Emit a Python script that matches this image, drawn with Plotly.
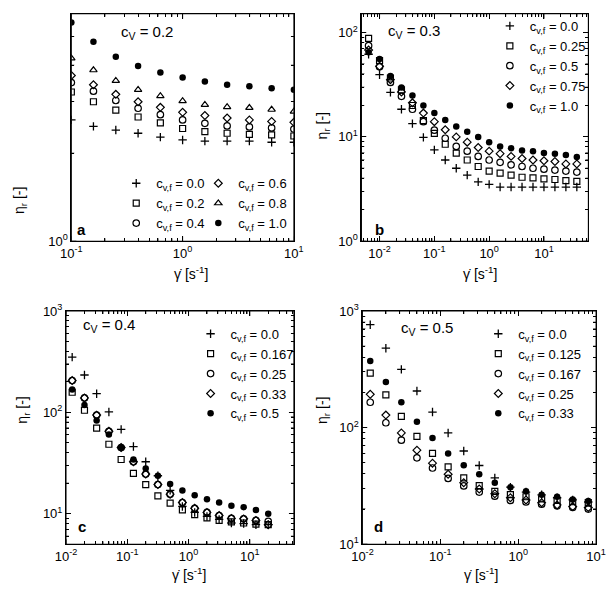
import math
import plotly.graph_objects as go

W, H = 608, 591
FONT = "Liberation Sans, Arial, Helvetica, sans-serif"

# ---------------- data ----------------
# panel a: c_V = 0.2
gd_a = [0.1, 0.158, 0.251, 0.398, 0.631, 1.0, 1.585, 2.512, 3.981, 6.31, 10.0]
a_cvf_00 = [2.60, 2.47, 2.40, 2.34, 2.27, 2.22, 2.20, 2.20, 2.20, 2.18, 2.18]
a_cvf_02 = [3.24, 3.00, 2.81, 2.66, 2.54, 2.43, 2.37, 2.34, 2.32, 2.31, 2.29]
a_cvf_04 = [3.49, 3.26, 3.03, 2.85, 2.71, 2.60, 2.53, 2.48, 2.46, 2.44, 2.42]
a_cvf_06 = [3.69, 3.43, 3.18, 3.00, 2.87, 2.76, 2.69, 2.64, 2.60, 2.57, 2.55]
a_cvf_08 = [4.23, 3.85, 3.54, 3.30, 3.14, 3.02, 2.93, 2.88, 2.86, 2.82, 2.78]
a_cvf_10 = [5.60, 4.81, 4.28, 3.98, 3.78, 3.63, 3.52, 3.43, 3.39, 3.34, 3.30]

# panel b: c_V = 0.3
gd_b = [0.00631, 0.01, 0.0158, 0.0251, 0.0398, 0.0631, 0.1, 0.158, 0.251, 0.398,
        0.631, 1.0, 1.585, 2.512, 3.981, 6.31, 10.0, 15.85, 25.12, 39.81]
b_cvf_000 = [62, 39.5, 26.7, 18.4, 13.4, 9.9, 7.5, 6.0, 5.0, 4.3,
             3.7, 3.5, 3.3, 3.3, 3.3, 3.3, 3.3, 3.3, 3.3, 3.3]
b_cvf_025 = [88, 54, 36.7, 28.3, 20, 14.3, 10.8, 8.5, 7.0, 6.0,
             5.2, 4.7, 4.5, 4.3, 4.1, 4.05, 3.96, 3.9, 3.8, 3.75]
b_cvf_050 = [75, 47, 33.3, 24.5, 18.4, 14.0, 11.6, 9.7, 8.1, 7.3,
             6.5, 6.0, 5.7, 5.4, 5.2, 5.0, 4.9, 4.8, 4.7, 4.6]
b_cvf_075 = [68, 47.5, 35.4, 27, 21.2, 16.9, 14.0, 11.7, 10.0, 8.9,
             7.9, 7.3, 6.9, 6.5, 6.2, 6.0, 5.9, 5.8, 5.5, 5.5]
b_cvf_100 = [65, 55.7, 38.4, 29.7, 24.9, 20.0, 16.9, 14.5, 12.6, 11.2,
             10.0, 8.9, 8.1, 7.8, 7.4, 7.3, 7.0, 6.9, 6.7, 6.4]

# panel c: c_V = 0.4
gd_c = [0.0126, 0.02, 0.0316, 0.0501, 0.0794, 0.126, 0.2, 0.316, 0.501, 0.794,
        1.26, 2.0, 3.16, 5.01, 7.94, 12.6, 20.0]
c_cvf_000 = [351, 234, 153, 101, 68, 46, 32.6, 23.7, 17, 11.8,
             10.3, 9.4, 8.8, 8.1, 8.0, 7.8, 7.8]
c_cvf_0167 = [158, 105, 70, 48.5, 34.3, 25, 19.4, 15, 12.7, 10.9,
              9.8, 9.1, 8.6, 8.3, 8.1, 7.9, 7.8]
c_cvf_025 = [206, 139, 94, 65, 45, 32.6, 24.6, 19.4, 15.6, 12.9,
             11.3, 10.3, 9.6, 9.0, 8.9, 8.6, 8.4]
c_cvf_033 = [206, 139, 94, 65, 45, 32.6, 24.6, 19.4, 15.6, 12.9,
             11.3, 10.3, 9.6, 9.0, 8.9, 8.6, 7.8]
c_cvf_050 = [168, 118, 83, 60.5, 45, 34.3, 28, 23.7, 19.7, 17,
             15.2, 13.9, 12.9, 12.0, 11.6, 10.9, 10.0]

# panel d: c_V = 0.5
gd_d = [0.0126, 0.02, 0.0316, 0.0501, 0.0794, 0.126, 0.2, 0.316, 0.501, 0.794,
        1.26, 2.0, 3.16, 5.01, 7.94]
d_cvf_000 = [764, 480, 316, 206, 136, 90, 63, 47.3, 37, 30.8, 28, 26.5, 25, 24, 23]
d_cvf_0125 = [293, 191, 125, 84, 60, 46, 37, 31.8, 28.4, 26.6, 25.5, 24.5, 23.7, 23.1, 22.7]
d_cvf_0167 = [165, 110, 78, 55, 45, 36.6, 31.6, 28, 25.8, 23.7, 23, 22, 21.3, 20.7, 20]
d_cvf_025 = [193, 128, 90, 64, 49.5, 39.8, 33.7, 29.7, 27.1, 25, 23.9, 22.7, 21.7, 21, 20.6]
d_cvf_033 = [373, 246, 165, 112, 81.5, 60, 47.6, 39.8, 33.7, 30.8, 28.4, 26.6, 25.5, 24.2, 23.4]

# tick labels
xt_a_vals = [0.1, 1, 10]
xt_a_text = ["10<sup>-1</sup>", "10<sup>0</sup>", "10<sup>1</sup>"]
yt_a_vals = [1, 6]
yt_a_text = ["10<sup>0</sup>", "6·10<sup>0</sup>"]
xt_b_vals = [0.01, 0.1, 1, 10]
xt_b_text = ["10<sup>-2</sup>", "10<sup>-1</sup>", "10<sup>0</sup>", "10<sup>1</sup>"]
yt_b_vals = [1, 10, 100]
yt_b_text = ["10<sup>0</sup>", "10<sup>1</sup>", "10<sup>2</sup>"]
xt_cd_vals = [0.01, 0.1, 1, 10]
xt_cd_text = ["10<sup>-2</sup>", "10<sup>-1</sup>", "10<sup>0</sup>", "10<sup>1</sup>"]
yt_cd_vals = [10, 100, 1000]
yt_cd_text = ["10<sup>1</sup>", "10<sup>2</sup>", "10<sup>3</sup>"]


def minor_vals(lo_dec, hi_dec):
    out = []
    for d in range(lo_dec, hi_dec + 1):
        for m in range(2, 10):
            out.append(m * 10.0 ** d)
    return out


LW = 1.2
STY = {
    "plus": dict(symbol="cross-thin-open", size=6, color="black", line=dict(width=1.3, color="black")),
    "square": dict(symbol="square-open", size=6, color="black", line=dict(width=LW, color="black")),
    "circle": dict(symbol="circle-open", size=6.5, color="black", line=dict(width=LW, color="black")),
    "diamond": dict(symbol="diamond-open", size=6, color="black", line=dict(width=LW, color="black")),
    "triangle": dict(symbol="triangle-up-open", size=6.5, color="black", line=dict(width=LW, color="black")),
    "filled": dict(symbol="circle", size=6.5, color="black", line=dict(width=0, color="black")),
}

fig = go.Figure()


def px2x(p):
    return p / W


def py2y(p):
    return 1 - p / H


def add(ax, x, y, name, sty, legend):
    fig.add_trace(go.Scatter(
        x=x, y=y, mode="markers", name=name, marker=STY[sty],
        xaxis="x" + ax, yaxis="y" + ax, legend=legend, showlegend=True,
    ))


def lbl(v):
    return "c<sub>v,f</sub> = " + v


add("", gd_a, a_cvf_00, lbl("0.0"), "plus", "legend")
add("", gd_a, a_cvf_02, lbl("0.2"), "square", "legend")
add("", gd_a, a_cvf_04, lbl("0.4"), "circle", "legend")
add("", gd_a, a_cvf_06, lbl("0.6"), "diamond", "legend2")
add("", gd_a, a_cvf_08, lbl("0.8"), "triangle", "legend2")
add("", gd_a, a_cvf_10, lbl("1.0"), "filled", "legend2")
add("2", gd_b, b_cvf_000, lbl("0.0"), "plus", "legend3")
add("2", gd_b, b_cvf_025, lbl("0.25"), "square", "legend3")
add("2", gd_b, b_cvf_050, lbl("0.5"), "circle", "legend3")
add("2", gd_b, b_cvf_075, lbl("0.75"), "diamond", "legend3")
add("2", gd_b, b_cvf_100, lbl("1.0"), "filled", "legend3")
add("3", gd_c, c_cvf_000, lbl("0.0"), "plus", "legend4")
add("3", gd_c, c_cvf_0167, lbl("0.167"), "square", "legend4")
add("3", gd_c, c_cvf_025, lbl("0.25"), "circle", "legend4")
add("3", gd_c, c_cvf_033, lbl("0.33"), "diamond", "legend4")
add("3", gd_c, c_cvf_050, lbl("0.5"), "filled", "legend4")
add("4", gd_d, d_cvf_000, lbl("0.0"), "plus", "legend5")
add("4", gd_d, d_cvf_0125, lbl("0.125"), "square", "legend5")
add("4", gd_d, d_cvf_0167, lbl("0.167"), "circle", "legend5")
add("4", gd_d, d_cvf_025, lbl("0.25"), "diamond", "legend5")
add("4", gd_d, d_cvf_033, lbl("0.33"), "filled", "legend5")

# panel pixel boxes (left, right, top, bottom)
A = (62.5, 293, 5, 239)
B = (363, 598, 5, 239)
C = (57, 293, 311, 551)
D = (364, 606, 311, 551)

RA = ([-1, 1], [0, 0.778])
RB = ([-2.33, 1.81], [0, 2.18])
RC = ([-2, 1.72], [0.7, 3])
RD = ([-2, 1], [1, 3])


def dx(b):
    return [px2x(b[0]), px2x(b[1])]


def dy(b):
    return [py2y(b[3]), py2y(b[2])]


def axis(domain, rng, tv, tt, mv, anchor):
    return dict(
        type="log", domain=domain, range=rng, anchor=anchor,
        showgrid=False, zeroline=False,
        showline=True, linecolor="black", linewidth=1, mirror="ticks",
        ticks="inside", ticklen=5, tickwidth=1, tickcolor="black",
        tickmode="array", tickvals=tv, ticktext=tt,
        tickfont=dict(family=FONT, size=13, color="black"),
        minor=dict(tickmode="array", tickvals=mv, ticks="inside", ticklen=3,
                   tickwidth=1, tickcolor="black", showgrid=False),
    )


layout = dict(
    width=W, height=H, margin=dict(l=0, r=0, t=0, b=0),
    paper_bgcolor="white", plot_bgcolor="white",
    font=dict(family=FONT, size=13, color="black"),
    xaxis=axis(dx(A), RA[0], xt_a_vals, xt_a_text, minor_vals(-1, 0), "y"),
    yaxis=axis(dy(A), RA[1], yt_a_vals, yt_a_text, [2, 3, 4, 5], "x"),
    xaxis2=axis(dx(B), RB[0], xt_b_vals, xt_b_text, minor_vals(-3, 1), "y2"),
    yaxis2=axis(dy(B), RB[1], yt_b_vals, yt_b_text, minor_vals(0, 1), "x2"),
    xaxis3=axis(dx(C), RC[0], xt_cd_vals, xt_cd_text, minor_vals(-2, 1), "y3"),
    yaxis3=axis(dy(C), RC[1], yt_cd_vals, yt_cd_text, minor_vals(0, 2), "x3"),
    xaxis4=axis(dx(D), RD[0], xt_cd_vals, xt_cd_text, minor_vals(-2, 0), "y4"),
    yaxis4=axis(dy(D), RD[1], yt_cd_vals, yt_cd_text, minor_vals(1, 2), "x4"),
)

# ---- frames and ticks as thin filled bars (fills instead of strokes) ----
shapes = []
BAR = dict(fillcolor="black", line=dict(width=0), layer="above")


def in_range(v, rng):
    lv = math.log10(v)
    return rng[0] - 1e-9 <= lv <= rng[1] + 1e-9


def frame_bars(xa, ya, rx, ry, xmaj, xmin, ymaj, ymin):
    xd, yd = xa + " domain", ya + " domain"
    # vertical frame edges
    for anc in (0, 1):
        shapes.append(dict(type="rect", xref=xd, yref=yd, xsizemode="pixel", xanchor=anc,
                           x0=-0.5, x1=0.5, y0=0, y1=1, **BAR))
    # horizontal frame edges
    for anc in (0, 1):
        shapes.append(dict(type="rect", xref=xd, yref=yd, ysizemode="pixel", yanchor=anc,
                           y0=-0.5, y1=0.5, x0=0, x1=1, **BAR))
    for vals, ln in ((xmaj, 5), (xmin, 3)):
        for v in vals:
            if not in_range(v, rx):
                continue
            for anc, sgn in ((0, 1), (1, -1)):
                shapes.append(dict(type="rect", xref=xa, yref=yd,
                                   xsizemode="pixel", xanchor=v, x0=-0.5, x1=0.5,
                                   ysizemode="pixel", yanchor=anc, y0=0, y1=sgn * ln, **BAR))
    for vals, ln in ((ymaj, 5), (ymin, 3)):
        for v in vals:
            if not in_range(v, ry):
                continue
            for anc, sgn in ((0, 1), (1, -1)):
                shapes.append(dict(type="rect", xref=xd, yref=ya,
                                   ysizemode="pixel", yanchor=v, y0=-0.5, y1=0.5,
                                   xsizemode="pixel", xanchor=anc, x0=0, x1=sgn * ln, **BAR))


frame_bars("x", "y", RA[0], RA[1], xt_a_vals, minor_vals(-1, 0), yt_a_vals, [2, 3, 4, 5])
frame_bars("x2", "y2", RB[0], RB[1], xt_b_vals, minor_vals(-3, 1), yt_b_vals, minor_vals(0, 1))
frame_bars("x3", "y3", RC[0], RC[1], xt_cd_vals, minor_vals(-2, 1), yt_cd_vals, minor_vals(0, 2))
frame_bars("x4", "y4", RD[0], RD[1], xt_cd_vals, minor_vals(-2, 0), yt_cd_vals, minor_vals(1, 2))
layout["shapes"] = shapes


def leg(xp, yp):
    return dict(x=px2x(xp), y=py2y(yp), xanchor="left", yanchor="top",
                bgcolor="rgba(0,0,0,0)", borderwidth=0, itemwidth=30,
                tracegroupgap=0, font=dict(family=FONT, size=13, color="black"),
                itemclick=False, itemdoubleclick=False)


layout["legend"] = leg(109, 164)
layout["legend2"] = leg(194, 164)
layout["legend3"] = leg(496, 2)
layout["legend4"] = leg(186, 319)
layout["legend5"] = leg(484, 319)

ann = []


def text(xp, yp, t, size=14, angle=0, bold=False, xanchor="center"):
    if bold:
        t = "<b>" + t + "</b>"
    ann.append(dict(x=px2x(xp), y=py2y(yp), xref="paper", yref="paper", text=t,
                    showarrow=False, textangle=angle, xanchor=xanchor, yanchor="middle",
                    font=dict(family=FONT, size=size, color="black")))


text(112, 24, "c<sub>V</sub> = 0.2", 15, xanchor="left")
text(388, 23, "c<sub>V</sub> = 0.3", 15, xanchor="left")
text(72, 326, "c<sub>V</sub> = 0.4", 15, xanchor="left")
text(402, 329, "c<sub>V</sub> = 0.5", 15, xanchor="left")
text(73, 227, "a", 15, bold=True)
text(382, 227, "b", 15, bold=True)
text(74, 533, "c", 15, bold=True)
text(381, 533, "d", 15, bold=True)
xt = "γ\u0307 [s<sup>-1</sup>]"
yt = "η<sub>r</sub> [-]"
text(186, 272, xt, 14)
text(486, 272, xt, 14)
text(184, 582, xt, 14)
text(487, 582, xt, 14)
text(10, 197, yt, 14, angle=-90)
text(323, 120, yt, 14, angle=-90)
text(13, 413, yt, 14, angle=-90)
text(323, 413, yt, 14, angle=-90)

layout["annotations"] = ann
fig.update_layout(**layout)
fig.write_html("out.html", config={"displayModeBar": False},
               post_script="document.body.style.margin='0px';document.body.style.overflow='hidden';")
